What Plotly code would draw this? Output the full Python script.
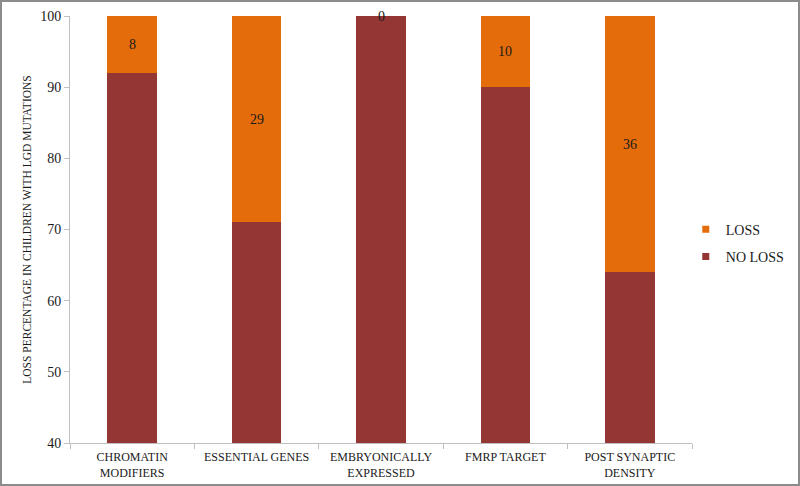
import plotly.graph_objects as go

categories = ["CHROMATIN<br>MODIFIERS", "ESSENTIAL GENES", "EMBRYONICALLY<br>EXPRESSED",
              "FMRP TARGET", "POST SYNAPTIC<br>DENSITY"]
no_loss = [92, 71, 100, 90, 64]
loss = [8, 29, 0, 10, 36]

W, H = 800, 486
ml, mr, mt, mb = 70, 108, 16, 43
pw, ph = W - ml - mr, H - mt - mb

RED, ORANGE = "#943634", "#E46C0A"

fig = go.Figure()
fig.add_trace(go.Bar(x=categories, y=no_loss, name="NO LOSS", showlegend=False,
                     marker=dict(color=RED, line=dict(width=0))))
fig.add_trace(go.Bar(x=categories, y=loss, name="LOSS", showlegend=False,
                     marker=dict(color=ORANGE, line=dict(width=0))))

# small square legend keys (Excel style)
for name, col in [("LOSS", ORANGE), ("NO LOSS", RED)]:
    fig.add_trace(go.Scatter(x=[None], y=[None], mode="markers", name=name,
                             legendgroup=name,
                             marker=dict(symbol="square", size=7, color=col)))

# value labels in the middle of the LOSS segment
for c, n, l in zip(categories, no_loss, loss):
    fig.add_annotation(x=c, y=n + l / 2, text=str(l), showarrow=False,
                       font=dict(size=14, color="#1a1a1a"))

# outer frame
fig.add_shape(type="rect", xref="paper", yref="paper",
              x0=-(ml - 1) / pw, x1=1 + (mr - 1) / pw,
              y0=-(mb - 1) / ph, y1=1 + (mt - 1) / ph,
              line=dict(color="#8c8c8c", width=2))

fig.update_layout(
    width=W, height=H,
    barmode="stack", bargap=0.6,
    margin=dict(l=ml, r=mr, t=mt, b=mb, autoexpand=False),
    paper_bgcolor="white", plot_bgcolor="white",
    font=dict(family="Liberation Serif", color="#1a1a1a"),
    legend=dict(x=0.99, y=0.468, xanchor="left", yanchor="middle",
                traceorder="grouped", font=dict(size=14), tracegroupgap=6,
                itemwidth=30, bgcolor="rgba(0,0,0,0)"),
    xaxis=dict(showline=True, linecolor="#bfbfbf", ticks="outside",
               tickson="boundaries", tickcolor="#bfbfbf", ticklen=5,
               tickfont=dict(size=12), showgrid=False, automargin=False,
               ticklabelstandoff=3),
    yaxis=dict(range=[40, 100], dtick=10, showline=True, linecolor="#bfbfbf",
               ticks="outside", tickcolor="#bfbfbf", ticklen=5, showgrid=False,
               tickfont=dict(size=14), automargin=False,
               title=dict(text="LOSS PERCENTAGE IN CHILDREN WITH LGD MUTATIONS",
                          font=dict(size=11.5), standoff=6)),
)

# drop the default page margin so the chart sits at the window corner
fig.write_html("out.html", config={"displayModeBar": False},
               post_script="document.body.style.margin='0';")
